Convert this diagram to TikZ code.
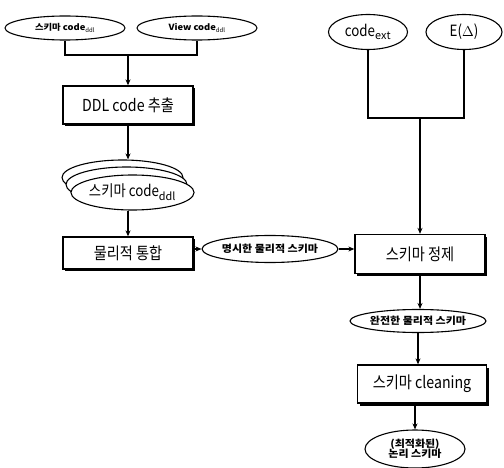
\documentclass[tikz,border=0pt]{standalone}
\usepackage{fontspec}
\setmainfont{Noto Sans CJK KR}
\newfontfamily\cond[FakeStretch=0.86]{Noto Sans CJK KR}
\newfontfamily\wide[FakeStretch=1.1]{Noto Sans CJK KR}
\usetikzlibrary{shapes.geometric,arrows.meta,shadows}
\begin{document}
\begin{tikzpicture}[x=1pt,y=-1pt,
  line width=1.1pt,
  arr/.style={-{Stealth[length=6pt,width=5pt]}},
  ell/.style={draw,ellipse,inner sep=0pt,fill=white},
  procbox/.style={draw,line width=1.3pt,fill=white,inner sep=0pt,
     drop shadow={shadow xshift=2pt,shadow yshift=-2.5pt,opacity=1,fill=black}},
  big/.style={font=\cond\fontsize{16.5}{18}\selectfont},
  small/.style={font=\wide\fontsize{8.5}{10}\selectfont\bfseries},
  mid/.style={font=\wide\fontsize{10}{11}\selectfont\bfseries}]
\useasboundingbox (0,0) rectangle (504,468);
% top-left inputs
\node[ell,minimum width=120pt,minimum height=24pt,small] (e1) at (65,28) {스키마 code$_{\mathrm{ddl}}$};
\node[ell,minimum width=120pt,minimum height=24pt,small] (e2) at (197,28) {View code$_{\mathrm{ddl}}$};
\coordinate (j1) at (128,55);
\draw (e1.south) |- (j1) -| (e2.south);
\node[procbox,minimum width=130pt,minimum height=38pt,big] (b1) at (128,105) {DDL code 추출};
\draw[arr] (j1) -- (b1.north);
% stacked documents
\node[ell,minimum width=121pt,minimum height=35pt] (s2) at (122.5,177.5) {};
\node[ell,minimum width=121pt,minimum height=35pt] (s1) at (126.5,184.5) {};
\node[ell,minimum width=121pt,minimum height=35pt,font=\cond\fontsize{15.5}{17}\selectfont] (s0) at (132.5,192.5) {스키마 code$_{\mathrm{ddl}}$};
\node[procbox,minimum width=130pt,minimum height=32pt,big] (b2) at (128,253) {물리적 통합};
\draw[arr] (b1.south) -- (b1.south |- s2.north);
\draw[arr] (s0.south -| b2.north) -- (b2.north);
% middle ellipse
\node[ell,minimum width=116pt,minimum height=27pt,mid] (em) at (270,249) {명시한 물리적 스키마};
\node[procbox,minimum width=130pt,minimum height=39pt,big] (b3) at (420,254) {스키마 정제};
\draw[arr] (b2.east |- em.west) -- (em.west);
\draw[arr] (em.east) -- (em.east -| b3.west);
% top right inputs
\node[ell,minimum width=79pt,minimum height=35pt,font=\cond\fontsize{15.5}{17}\selectfont] (ec) at (368,32) {code$_{\mathrm{ext}}$};
\node[ell,minimum width=76pt,minimum height=35pt,font=\cond\fontsize{15.5}{17}\selectfont] (ee) at (464,32) {E($\Delta$)};
\coordinate (j2) at (420,118);
\draw (ec.south) |- (j2) -| (ee.south);
\draw[arr] (j2) -- (b3.north);
% lower right chain
\node[ell,minimum width=119pt,minimum height=23pt,mid] (ef) at (418,321) {완전한 물리적 스키마};
\node[procbox,minimum width=129pt,minimum height=38pt,big] (b4) at (422,384) {스키마 cleaning};
\node[ell,minimum width=100pt,minimum height=38pt,mid,align=center] (el) at (415,449) {(최적화된)\\[-1pt]논리 스키마};
\draw[arr] (b3.south) -- (b3.south |- ef.north);
\draw[arr] (ef.south) -- (ef.south |- b4.north);
\draw[arr] (b4.south -| el.north) -- (el.north);
\end{tikzpicture}
\end{document}
